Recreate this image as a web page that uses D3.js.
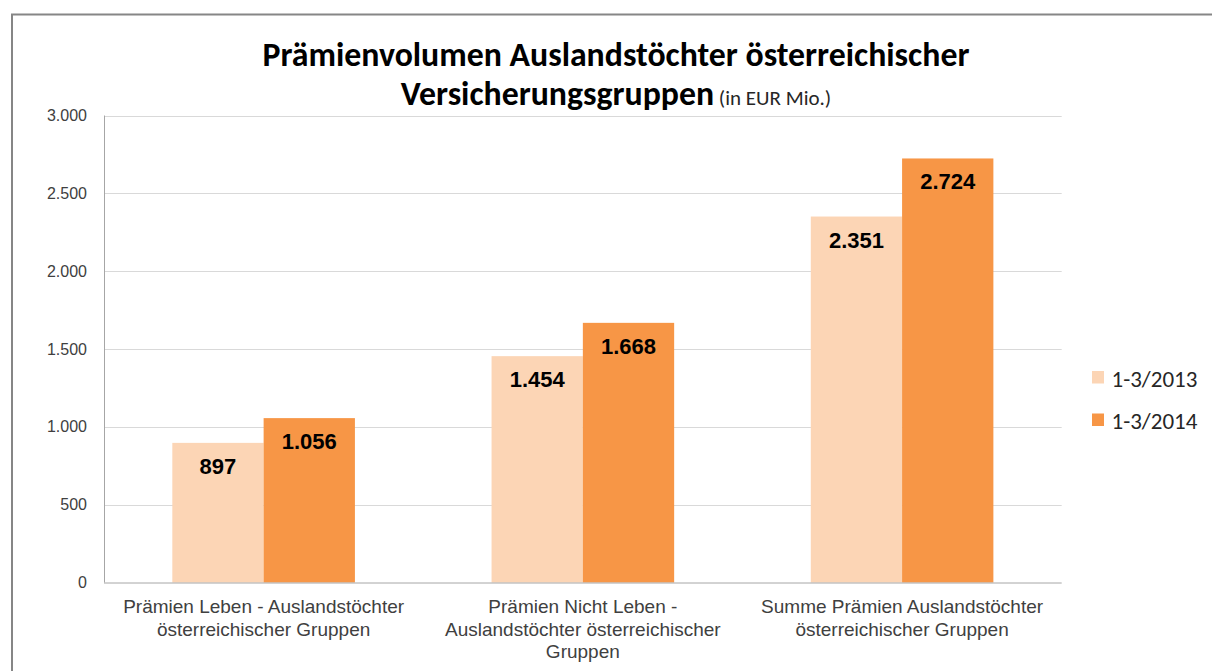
<!DOCTYPE html>
<html>
<head>
<meta charset="utf-8">
<script src="https://cdn.jsdelivr.net/npm/d3@7"></script>
<style>
  html, body { margin: 0; padding: 0; background: #fff; }
  svg { display: block; }
</style>
</head>
<body>
<div id="chart"></div>
<script>
const categories = [
  ["Prämien Leben - Auslandstöchter", "österreichischer Gruppen"],
  ["Prämien Nicht Leben -", "Auslandstöchter österreichischer", "Gruppen"],
  ["Summe Prämien Auslandstöchter", "österreichischer Gruppen"]
];
const seriesNames = ["1-3/2013", "1-3/2014"];
const values2013 = [897, 1454, 2351];
const values2014 = [1056, 1668, 2724];
const yTicks = [0, 500, 1000, 1500, 2000, 2500, 3000];
const colors = ["#FCD5B5", "#F79646"];

const width = 1212, height = 671;
const plot = { left: 104, right: 1061.7, top: 115.5, bottom: 582.5 };

const svg = d3.select("#chart").append("svg")
  .attr("width", width)
  .attr("height", height);

// outer frame
svg.append("rect")
  .attr("x", 12).attr("y", 14.5)
  .attr("width", 1300).attr("height", 800)
  .attr("fill", "none")
  .attr("stroke", "#868686")
  .attr("stroke-width", 2);

const y = d3.scaleLinear().domain([0, 3000]).range([plot.bottom, plot.top]);
const x0 = d3.scaleBand()
  .domain(d3.range(categories.length))
  .range([plot.left, plot.right])
  .paddingInner(0.428)
  .paddingOuter(0.214);
const x1 = d3.scaleBand().domain(seriesNames).range([0, x0.bandwidth()]);

const fmt = v => d3.format(",")(v).replace(/,/g, ".");

// gridlines
svg.append("g").selectAll("line")
  .data(yTicks.filter(d => d > 0))
  .join("line")
    .attr("x1", plot.left).attr("x2", plot.right)
    .attr("y1", d => Math.round(y(d)) + 0.5).attr("y2", d => Math.round(y(d)) + 0.5)
    .attr("stroke", "#d9d9d9").attr("stroke-width", 1);

// y labels
svg.append("g")
  .attr("font-family", "Arial, 'Liberation Sans', sans-serif")
  .attr("font-size", 16)
  .attr("fill", "#404040")
  .attr("text-anchor", "end")
  .selectAll("text")
  .data(yTicks)
  .join("text")
    .attr("x", 87)
    .attr("y", d => y(d) + 5.5)
    .text(fmt);

// bars
const rows = categories.map((c, i) => [values2013[i], values2014[i]]);
const groups = svg.append("g").selectAll("g")
  .data(rows)
  .join("g")
    .attr("transform", (d, i) => `translate(${x0(i)},0)`);

groups.selectAll("rect")
  .data(d => d.map((v, j) => ({ key: seriesNames[j], value: v, j })))
  .join("rect")
    .attr("x", d => x1(d.key))
    .attr("y", d => y(d.value))
    .attr("width", x1.bandwidth())
    .attr("height", d => y(0) - y(d.value))
    .attr("fill", d => colors[d.j]);

groups.selectAll("text")
  .data(d => d.map((v, j) => ({ key: seriesNames[j], value: v })))
  .join("text")
    .attr("x", d => x1(d.key) + x1.bandwidth() / 2)
    .attr("y", d => y(d.value) + 31)
    .attr("text-anchor", "middle")
    .attr("font-family", "Arial, 'Liberation Sans', sans-serif")
    .attr("font-weight", "bold")
    .attr("font-size", 22)
    .attr("fill", "#000")
    .text(d => fmt(d.value));

// axes lines
svg.append("line")
  .attr("x1", plot.left + 0.5).attr("x2", plot.left + 0.5)
  .attr("y1", plot.top).attr("y2", plot.bottom)
  .attr("stroke", "#a6a6a6");
svg.append("line")
  .attr("x1", plot.left).attr("x2", plot.right)
  .attr("y1", plot.bottom + 0.5).attr("y2", plot.bottom + 0.5)
  .attr("stroke", "#a6a6a6");

// category labels
svg.append("g")
  .attr("font-family", "Arial, 'Liberation Sans', sans-serif")
  .attr("font-size", 19)
  .attr("fill", "#404040")
  .attr("text-anchor", "middle")
  .selectAll("text")
  .data(categories)
  .join("text")
    .attr("x", (d, i) => x0(i) + x0.bandwidth() / 2)
    .attr("y", 613)
    .selectAll("tspan")
    .data(d => d)
    .join("tspan")
      .attr("x", function () { return this.parentNode.getAttribute("x"); })
      .attr("dy", (d, i) => i === 0 ? 0 : 22.5)
      .text(d => d);

// title
const titleFont = "Calibri, Carlito, Lato, 'Open Sans', sans-serif";
const t1 = svg.append("text")
  .attr("x", 616).attr("y", 66)
  .attr("text-anchor", "middle")
  .attr("font-family", titleFont)
  .attr("font-weight", "bold")
  .attr("font-size", 30)
  .attr("fill", "#000")
  .text("Prämienvolumen Auslandstöchter österreichischer");
const w1 = t1.node().getComputedTextLength();
t1.attr("font-size", 30 * 707 / w1);

const t2 = svg.append("text")
  .attr("x", 616).attr("y", 105)
  .attr("text-anchor", "middle")
  .attr("font-family", titleFont)
  .attr("fill", "#000");
t2.append("tspan")
  .attr("font-weight", "bold")
  .attr("font-size", 30 * 707 / w1)
  .text("Versicherungsgruppen");
t2.append("tspan")
  .attr("font-size", 21)
  .attr("fill", "#262626")
  .text(" (in EUR Mio.)");

// legend
const legend = svg.append("g").selectAll("g")
  .data(seriesNames)
  .join("g")
    .attr("transform", (d, i) => `translate(1092,${371 + i * 42.5})`);
legend.append("rect")
  .attr("width", 12).attr("height", 12.5)
  .attr("fill", (d, i) => colors[i]);
legend.append("text")
  .attr("x", 19.5).attr("y", 15.5)
  .attr("font-family", titleFont)
  .attr("font-size", 23)
  .attr("fill", "#262626")
  .text(d => d);
</script>
</body>
</html>
